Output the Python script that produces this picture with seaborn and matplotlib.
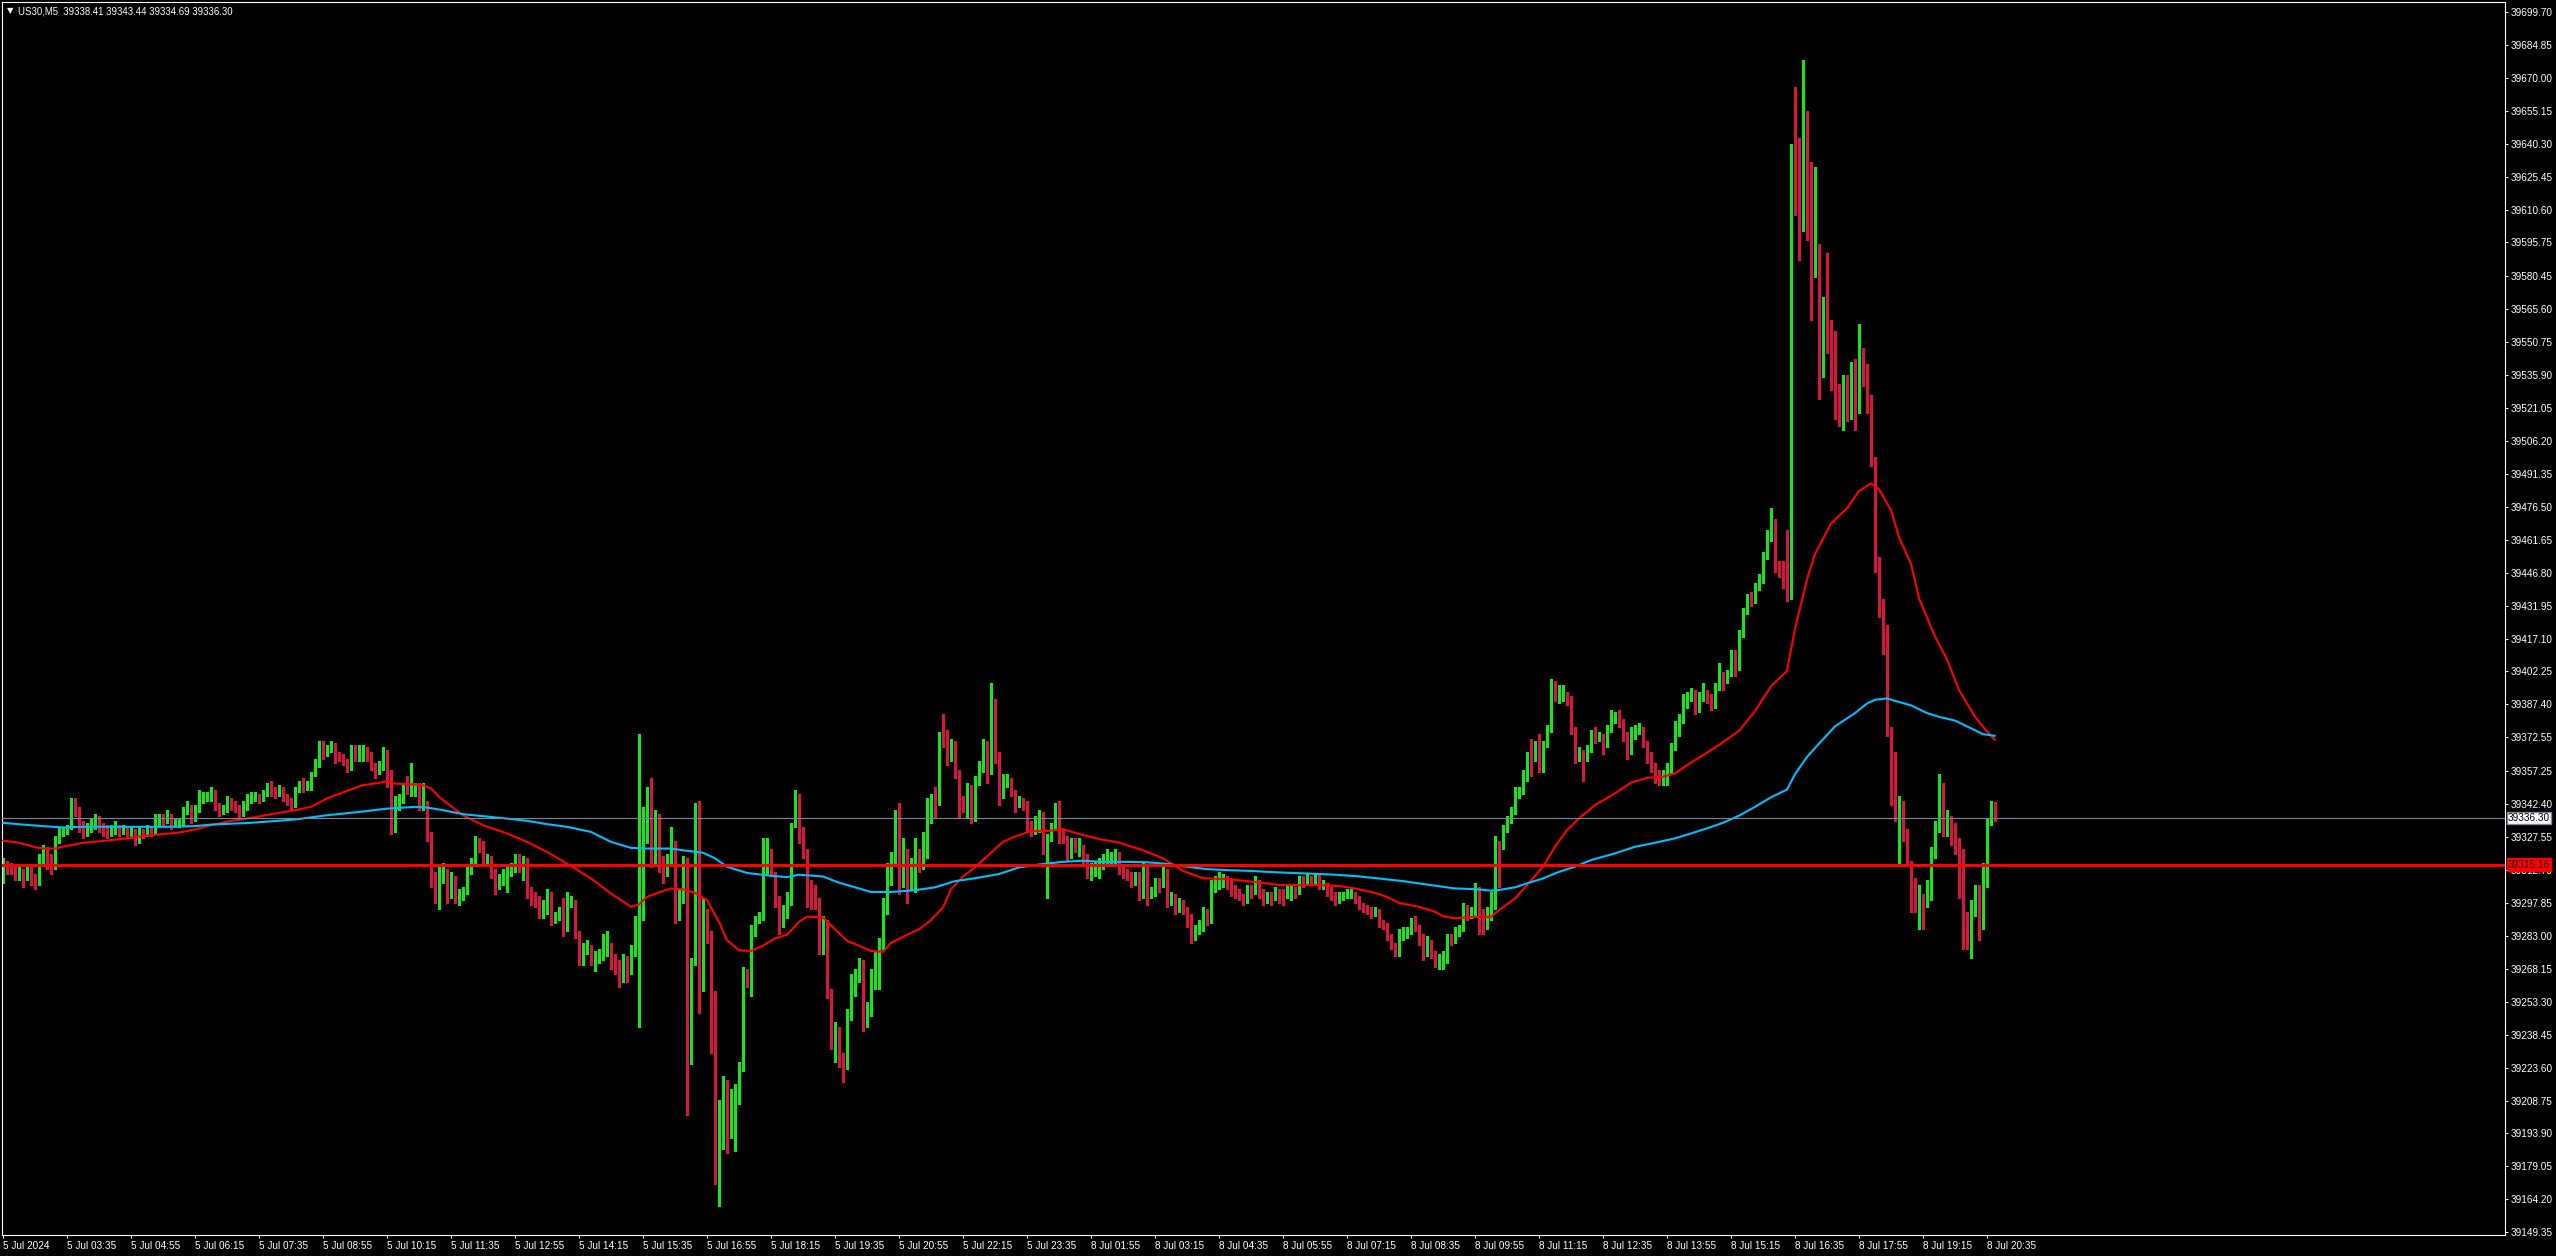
import numpy as np
import pandas as pd
import matplotlib
matplotlib.use("Agg")
import matplotlib.pyplot as plt
import matplotlib.transforms as mtransforms
import seaborn as sns

# ------------------------------
# US30 M5 candles, 5 Jul 2024 02:15 -> 8 Jul 2024 20:50 (499 bars)
# ------------------------------
first_open = 39310.0

closes = [
    39316, 39314, 39313, 39310, 39311, 39309, 39312, 39309, 39306, 39317,
    39321, 39318, 39314, 39326, 39330, 39330, 39331, 39341, 39340, 39333,
    39331, 39332, 39334, 39336, 39333, 39332, 39330, 39331, 39332, 39330,
    39331, 39329, 39330, 39326, 39330, 39329, 39331, 39330, 39335, 39336,
    39335, 39337, 39334, 39334, 39334, 39340, 39342, 39336, 39340, 39345,
    39345, 39346, 39347, 39342, 39340, 39340, 39344, 39342, 39341, 39338,
    39342, 39344, 39345, 39346, 39345, 39347, 39349, 39348, 39347, 39349,
    39346, 39344, 39342, 39349, 39351, 39350, 39351, 39356, 39360, 39367,
    39365, 39367, 39368, 39365, 39364, 39362, 39359, 39367, 39364, 39364,
    39367, 39366, 39360, 39358, 39360, 39365, 39357, 39332, 39344, 39344,
    39350, 39349, 39349, 39350, 39343, 39344, 39329, 39311, 39301, 39311,
    39312, 39302, 39309, 39301, 39301, 39304, 39313, 39317, 39325, 39322,
    39317, 39318, 39313, 39308, 39309, 39310, 39311, 39313, 39317, 39315,
    39316, 39304, 39302, 39300, 39294, 39296, 39300, 39291, 39292, 39294,
    39289, 39298, 39298, 39284, 39277, 39277, 39278, 39271, 39273, 39274,
    39276, 39278, 39273, 39269, 39265, 39272, 39268, 39276, 39288, 39321,
    39333, 39347, 39316, 39336, 39316, 39314, 39317, 39325, 39293, 39301,
    39318, 39271, 39271, 39335, 39260, 39293, 39285, 39257, 39198, 39206,
    39216, 39197, 39199, 39213, 39224, 39266, 39264, 39286, 39289, 39292,
    39312, 39317, 39312, 39301, 39289, 39294, 39299, 39333, 39345, 39329,
    39321, 39307, 39304, 39299, 39278, 39289, 39258, 39235, 39241, 39228,
    39225, 39248, 39258, 39264, 39270, 39243, 39249, 39262, 39270, 39279,
    39297, 39309, 39318, 39337, 39311, 39321, 39307, 39313, 39320, 39315,
    39321, 39337, 39344, 39343, 39374, 39373, 39365, 39370, 39357, 39345,
    39342, 39349, 39336, 39352, 39359, 39369, 39356, 39384, 39365, 39348,
    39352, 39353, 39348, 39343, 39344, 39343, 39334, 39331, 39334, 39337,
    39324, 39326, 39332, 39340, 39328, 39327, 39320, 39324, 39323, 39323,
    39320, 39312, 39314, 39314, 39315, 39316, 39318, 39318, 39319, 39314,
    39312, 39311, 39307, 39310, 39302, 39314, 39302, 39303, 39307, 39306,
    39311, 39299, 39301, 39296, 39297, 39296, 39290, 39283, 39286, 39287,
    39293, 39290, 39305, 39306, 39308, 39308, 39307, 39304, 39303, 39301,
    39300, 39303, 39302, 39307, 39303, 39300, 39301, 39300, 39303, 39302,
    39301, 39303, 39303, 39302, 39308, 39307, 39309, 39308, 39309, 39306,
    39306, 39303, 39302, 39299, 39301, 39301, 39302, 39302, 39300, 39297,
    39296, 39295, 39293, 39294, 39289, 39288, 39283, 39279, 39276, 39283,
    39283, 39285, 39289, 39287, 39283, 39275, 39280, 39275, 39272, 39272,
    39273, 39282, 39281, 39285, 39286, 39295, 39292, 39293, 39304, 39293,
    39287, 39292, 39296, 39325, 39323, 39331, 39335, 39339, 39347, 39348,
    39355, 39364, 39363, 39369, 39359, 39370, 39376, 39395, 39391, 39392,
    39392, 39389, 39377, 39363, 39366, 39364, 39367, 39374, 39373, 39373,
    39369, 39376, 39381, 39383, 39380, 39374, 39367, 39374, 39376, 39376,
    39370, 39365, 39360, 39356, 39354, 39355, 39359, 39368, 39376, 39380,
    39388, 39391, 39393, 39386, 39391, 39392, 39391, 39389, 39395, 39401,
    39397, 39401, 39410, 39404, 39419, 39429, 39436, 39434, 39440, 39443,
    39454, 39462, 39470, 39450, 39448, 39447, 39442, 39630, 39626, 39613,
    39638, 39630, 39586, 39587, 39539, 39568, 39548, 39545, 39527, 39517,
    39533, 39518, 39533, 39524, 39543, 39535, 39520, 39498, 39450, 39429,
    39418, 39374, 39358, 39338, 39343, 39329, 39316, 39299, 39296, 39302,
    39298, 39303, 39322, 39333, 39352, 39329, 39335, 39334, 39325, 39302,
    39287, 39284, 39298, 39300, 39290, 39306, 39336, 39338.41, 39336.30,
]

highs = [
    39318, 39317, 39316, 39315, 39314, 39313, 39315, 39314, 39311, 39320,
    39324, 39323, 39320, 39328, 39332, 39332, 39333, 39345, 39345, 39341,
    39335, 39334, 39336, 39338, 39337, 39334, 39333, 39333, 39335, 39333,
    39333, 39332, 39332, 39331, 39332, 39331, 39333, 39332, 39338, 39338,
    39338, 39340, 39338, 39336, 39336, 39341, 39344, 39342, 39342, 39349,
    39348, 39348, 39350, 39349, 39343, 39342, 39346, 39345, 39344, 39342,
    39344, 39347, 39348, 39348, 39347, 39349, 39352, 39353, 39350, 39351,
    39350, 39347, 39345, 39350, 39353, 39354, 39353, 39357, 39363, 39371,
    39371, 39369, 39371, 39370, 39366, 39365, 39363, 39369, 39369, 39369,
    39369, 39368, 39366, 39361, 39362, 39368, 39367, 39358, 39346, 39347,
    39352, 39355, 39361, 39352, 39352, 39352, 39344, 39330, 39312, 39314,
    39316, 39313, 39312, 39310, 39304, 39305, 39315, 39318, 39328, 39327,
    39326, 39320, 39319, 39313, 39311, 39313, 39314, 39316, 39320, 39320,
    39319, 39318, 39305, 39303, 39301, 39299, 39304, 39303, 39294, 39296,
    39300, 39303, 39301, 39299, 39285, 39280, 39281, 39279, 39276, 39277,
    39284, 39285, 39280, 39275, 39272, 39275, 39274, 39279, 39292, 39374,
    39341, 39350, 39354, 39340, 39338, 39319, 39320, 39332, 39326, 39304,
    39319, 39318, 39273, 39343, 39344, 39300, 39295, 39281, 39258, 39209,
    39220, 39218, 39214, 39216, 39226, 39269, 39268, 39288, 39292, 39294,
    39327, 39327, 39322, 39312, 39301, 39297, 39303, 39334, 39349, 39347,
    39332, 39322, 39308, 39306, 39300, 39292, 39290, 39259, 39244, 39242,
    39230, 39250, 39266, 39268, 39273, 39272, 39253, 39268, 39276, 39282,
    39300, 39316, 39321, 39340, 39343, 39327, 39322, 39318, 39327, 39322,
    39330, 39345, 39347, 39350, 39375, 39383, 39376, 39372, 39371, 39358,
    39346, 39352, 39351, 39355, 39362, 39372, 39371, 39397, 39390, 39366,
    39356, 39356, 39354, 39349, 39346, 39345, 39344, 39335, 39337, 39340,
    39339, 39329, 39334, 39343, 39344, 39331, 39328, 39327, 39327, 39327,
    39324, 39318, 39316, 39317, 39318, 39320, 39322, 39321, 39322, 39321,
    39315, 39313, 39312, 39312, 39312, 39316, 39315, 39305, 39309, 39309,
    39314, 39313, 39303, 39302, 39300, 39299, 39296, 39293, 39288, 39290,
    39296, 39295, 39308, 39310, 39312, 39311, 39310, 39309, 39306, 39304,
    39302, 39306, 39306, 39310, 39308, 39304, 39303, 39303, 39305, 39304,
    39304, 39306, 39306, 39305, 39310, 39310, 39311, 39310, 39311, 39311,
    39308, 39307, 39305, 39303, 39303, 39303, 39304, 39304, 39303, 39301,
    39298, 39297, 39296, 39296, 39295, 39290, 39289, 39284, 39280, 39286,
    39287, 39287, 39291, 39292, 39288, 39284, 39283, 39281, 39276, 39275,
    39276, 39284, 39284, 39287, 39288, 39298, 39297, 39296, 39307, 39305,
    39295, 39296, 39303, 39328, 39326, 39333, 39337, 39341, 39350, 39350,
    39358, 39366, 39372, 39371, 39374, 39371, 39378, 39399, 39398, 39396,
    39396, 39393, 39391, 39377, 39368, 39367, 39369, 39376, 39377, 39375,
    39374, 39378, 39385, 39384, 39385, 39381, 39375, 39377, 39378, 39379,
    39377, 39371, 39366, 39361, 39358, 39358, 39361, 39370, 39380, 39383,
    39392, 39393, 39395, 39394, 39393, 39397, 39394, 39392, 39397, 39406,
    39402, 39403, 39412, 39412, 39421, 39431, 39437, 39438, 39442, 39446,
    39456, 39466, 39476, 39471, 39452, 39452, 39466, 39640, 39666, 39643,
    39678, 39655, 39632, 39630, 39595, 39571, 39591, 39561, 39556, 39532,
    39536, 39536, 39542, 39543, 39559, 39548, 39541, 39527, 39499, 39454,
    39435, 39423, 39377, 39366, 39346, 39344, 39331, 39317, 39309, 39306,
    39302, 39308, 39323, 39335, 39356, 39352, 39340, 39337, 39333, 39327,
    39322, 39294, 39299, 39306, 39306, 39316, 39336, 39344, 39343.44,
]

lows = [
    39307, 39311, 39311, 39308, 39308, 39305, 39308, 39306, 39304, 39306,
    39315, 39313, 39311, 39313, 39325, 39328, 39329, 39331, 39337, 39330,
    39327, 39328, 39330, 39331, 39330, 39328, 39327, 39328, 39329, 39328,
    39329, 39327, 39327, 39324, 39325, 39327, 39328, 39328, 39329, 39333,
    39333, 39334, 39331, 39332, 39332, 39333, 39338, 39334, 39335, 39339,
    39343, 39344, 39344, 39340, 39337, 39338, 39339, 39340, 39339, 39336,
    39337, 39340, 39343, 39344, 39343, 39344, 39346, 39346, 39345, 39346,
    39344, 39342, 39340, 39341, 39348, 39348, 39349, 39349, 39355, 39359,
    39363, 39364, 39366, 39361, 39362, 39360, 39357, 39358, 39362, 39362,
    39362, 39362, 39358, 39354, 39356, 39358, 39350, 39329, 39330, 39340,
    39343, 39347, 39346, 39346, 39340, 39340, 39326, 39305, 39298, 39295,
    39307, 39298, 39300, 39298, 39297, 39299, 39302, 39311, 39316, 39321,
    39315, 39315, 39309, 39302, 39304, 39306, 39303, 39310, 39312, 39312,
    39308, 39300, 39297, 39296, 39291, 39291, 39293, 39288, 39289, 39290,
    39283, 39285, 39296, 39282, 39270, 39270, 39275, 39270, 39267, 39271,
    39272, 39274, 39268, 39266, 39260, 39262, 39262, 39266, 39274, 39242,
    39290, 39325, 39314, 39315, 39312, 39307, 39310, 39315, 39289, 39290,
    39298, 39202, 39225, 39270, 39248, 39258, 39280, 39230, 39171, 39161,
    39187, 39185, 39192, 39186, 39207, 39222, 39260, 39256, 39283, 39289,
    39290, 39311, 39310, 39296, 39284, 39287, 39291, 39297, 39332, 39325,
    39318, 39296, 39295, 39295, 39275, 39275, 39255, 39232, 39226, 39224,
    39217, 39223, 39245, 39256, 39262, 39240, 39242, 39247, 39259, 39259,
    39277, 39293, 39306, 39316, 39302, 39305, 39298, 39304, 39303, 39312,
    39313, 39318, 39334, 39336, 39342, 39368, 39360, 39362, 39354, 39336,
    39339, 39336, 39334, 39335, 39351, 39357, 39352, 39356, 39361, 39342,
    39345, 39350, 39346, 39339, 39341, 39340, 39330, 39328, 39329, 39330,
    39320, 39300, 39326, 39331, 39325, 39325, 39317, 39318, 39321, 39319,
    39316, 39309, 39308, 39310, 39309, 39313, 39315, 39315, 39316, 39311,
    39309, 39308, 39305, 39306, 39299, 39300, 39297, 39300, 39301, 39303,
    39305, 39296, 39297, 39293, 39294, 39293, 39287, 39280, 39281, 39284,
    39285, 39288, 39289, 39303, 39304, 39305, 39304, 39301, 39300, 39299,
    39297, 39298, 39300, 39302, 39300, 39297, 39298, 39297, 39299, 39298,
    39297, 39300, 39299, 39300, 39302, 39305, 39306, 39306, 39306, 39304,
    39304, 39301, 39299, 39297, 39298, 39299, 39300, 39300, 39298, 39295,
    39294, 39293, 39291, 39292, 39287, 39286, 39281, 39277, 39274, 39274,
    39281, 39282, 39284, 39285, 39279, 39272, 39274, 39273, 39269, 39268,
    39268, 39271, 39279, 39280, 39283, 39285, 39290, 39291, 39292, 39284,
    39284, 39286, 39290, 39295, 39305, 39322, 39330, 39334, 39338, 39345,
    39347, 39353, 39355, 39362, 39357, 39357, 39368, 39375, 39389, 39388,
    39389, 39387, 39374, 39361, 39362, 39353, 39362, 39366, 39370, 39371,
    39365, 39368, 39375, 39379, 39377, 39371, 39363, 39365, 39372, 39374,
    39368, 39361, 39357, 39352, 39351, 39351, 39351, 39356, 39367, 39373,
    39379, 39386, 39389, 39383, 39384, 39389, 39388, 39385, 39386, 39394,
    39394, 39397, 39400, 39400, 39403, 39418, 39428, 39432, 39433, 39439,
    39442, 39453, 39461, 39447, 39445, 39440, 39434, 39435, 39608, 39588,
    39601, 39597, 39561, 39580, 39525, 39535, 39546, 39529, 39516, 39513,
    39511, 39515, 39516, 39511, 39519, 39531, 39519, 39495, 39447, 39427,
    39410, 39373, 39342, 39335, 39316, 39326, 39315, 39294, 39294, 39286,
    39286, 39296, 39299, 39318, 39330, 39328, 39328, 39324, 39320, 39300,
    39277, 39277, 39273, 39292, 39281, 39286, 39305, 39333, 39334.69,
]

# moving averages (bar index, price)
red_ma_idx = [
    0, 4, 8, 10, 13, 16, 20, 26, 31, 35, 39, 44, 48, 52, 57, 62, 68, 73, 77, 81,
    86, 90, 94, 96, 98, 102, 105, 107, 109, 112, 115, 120, 126, 131, 136, 141, 147, 152, 157, 159,
    161, 164, 167, 170, 173, 176, 179, 181, 184, 187, 190, 193, 196, 199, 201, 205, 208, 211, 214, 217,
    220, 222, 226, 229, 232, 235, 237, 240, 243, 247, 250, 253, 257, 261, 265, 269, 274, 279, 285, 290,
    295, 300, 307, 313, 319, 324, 329, 334, 338, 343, 346, 349, 354, 358, 360, 363, 368, 372, 374, 378,
    381, 385, 388, 391, 394, 398, 403, 407, 411, 415, 418, 421, 425, 429, 434, 438, 442, 446, 448, 451,
    453, 457, 461, 464, 467, 469, 472, 474, 477, 479, 483, 486, 489, 493, 496, 498,
]
red_ma_val = [
    39326, 39325, 39323, 39322.4, 39322.4, 39323.6, 39325, 39326, 39327, 39328,
    39328.8, 39329.6, 39331, 39332.9, 39334.9, 39336.2, 39338.2, 39339.7, 39341.2, 39345,
    39348.4, 39351, 39352, 39352.8, 39351.7, 39351.4, 39351, 39349.5, 39345.7, 39341.5,
    39337.4, 39332.9, 39329.2, 39325.4, 39320.9, 39315.6, 39308.9, 39302.1, 39296.1, 39297.2,
    39300.6, 39302.6, 39304.4, 39304, 39302.4, 39299.1, 39289.3, 39281.1, 39276.5, 39276.2,
    39278.6, 39281.9, 39283.5, 39289.3, 39291.7, 39291.3, 39286, 39280.8, 39278.6, 39276.2,
    39275.8, 39279.8, 39283.5, 39286, 39290.1, 39295.9, 39304, 39309.8, 39313.9, 39320.5,
    39325.4, 39327.8, 39330.3, 39330.3, 39331.1, 39329, 39326.7, 39325.1, 39321.6, 39318,
    39312.3, 39309, 39308.5, 39307.3, 39306, 39305.9, 39305.9, 39305.5, 39304.4, 39302.4,
    39300.6, 39297.9, 39296.1, 39293.9, 39291.9, 39290.9, 39291.6, 39291.6, 39294.6, 39299.9,
    39305.9, 39314.2, 39323.2, 39330.7, 39336, 39342, 39347.3, 39352.1, 39354.3, 39354.8,
    39356.3, 39360, 39364.5, 39369.1, 39375.5, 39384.4, 39395.6, 39402.5, 39421.5, 39443.9,
    39455.2, 39469, 39475.9, 39483.6, 39487.1, 39484.5, 39475, 39462.9, 39450.8, 39435.3,
    39418, 39407.7, 39393.9, 39381.8, 39375.2, 39371.4,
]

blue_ma_idx = [
    0, 5, 10, 15, 20, 31, 41, 48, 52, 62, 73, 81, 89, 96, 103, 106, 110, 115, 120, 126,
    131, 136, 141, 147, 152, 157, 161, 167, 170, 175, 178, 181, 186, 191, 196, 199, 205, 209, 214, 217,
    222, 228, 233, 238, 243, 249, 254, 259, 265, 270, 275, 280, 286, 291, 296, 301, 307, 312, 317, 322,
    325, 332, 338, 344, 350, 357, 363, 368, 372, 374, 378, 381, 385, 389, 393, 397, 403, 408, 413, 418,
    422, 426, 430, 434, 438, 442, 446, 448, 451, 454, 458, 463, 466, 468, 471, 473, 477, 481, 484, 488,
    491, 495, 498,
]
blue_ma_val = [
    39334, 39333.2, 39332.5, 39331.9, 39332.2, 39332.2, 39332.2, 39332.5, 39333.2, 39334,
    39335.5, 39337.4, 39338.9, 39340.4, 39341.2, 39340.9, 39339.7, 39337.9, 39337, 39335.9,
    39334.9, 39333.4, 39332.2, 39329.9, 39325.4, 39322.7, 39322.4, 39322.4, 39321.6, 39320.5,
    39318, 39314.2, 39311.4, 39310.3, 39309.5, 39310.6, 39309.8, 39307, 39304.4, 39302.8,
    39302.8, 39303.6, 39304.9, 39307.7, 39309, 39310.9, 39313.9, 39315.2, 39316.4, 39316.9,
    39316.4, 39316.4, 39316.2, 39315.5, 39314.2, 39313.1, 39312.6, 39312.3, 39311.8, 39311.4,
    39311.2, 39310.7, 39310, 39308.9, 39307.7, 39305.9, 39304.4, 39304.1, 39303.4, 39303.7,
    39304.9, 39306.7, 39308.9, 39311.9, 39314.2, 39317.2, 39320.2, 39323.2, 39325, 39327,
    39329.2, 39331.5, 39334, 39337.2, 39341.2, 39345.5, 39349, 39355.9, 39363.7, 39369.7,
    39377.5, 39383.5, 39387.8, 39389.5, 39390.1, 39389, 39387, 39383.5, 39381.8, 39380.1,
    39377.5, 39374, 39373.2,
]

time_labels = [
    "5 Jul 2024", "5 Jul 03:35", "5 Jul 04:55", "5 Jul 06:15", "5 Jul 07:35",
    "5 Jul 08:55", "5 Jul 10:15", "5 Jul 11:35", "5 Jul 12:55", "5 Jul 14:15",
    "5 Jul 15:35", "5 Jul 16:55", "5 Jul 18:15", "5 Jul 19:35", "5 Jul 20:55",
    "5 Jul 22:15", "5 Jul 23:35", "8 Jul 01:55", "8 Jul 03:15", "8 Jul 04:35",
    "8 Jul 05:55", "8 Jul 07:15", "8 Jul 08:35", "8 Jul 09:55", "8 Jul 11:15",
    "8 Jul 12:35", "8 Jul 13:55", "8 Jul 15:15", "8 Jul 16:35", "8 Jul 17:55",
    "8 Jul 19:15", "8 Jul 20:35",
]

price_ticks = [
    39699.70, 39684.85, 39670.00, 39655.15, 39640.30, 39625.45, 39610.60, 39595.75,
    39580.45, 39565.60, 39550.75, 39535.90, 39521.05, 39506.20, 39491.35, 39476.50,
    39461.65, 39446.80, 39431.95, 39417.10, 39402.25, 39387.40, 39372.55, 39357.25,
    39342.40, 39327.55, 39312.70, 39297.85, 39283.00, 39268.15, 39253.30, 39238.45,
    39223.60, 39208.75, 39193.90, 39179.05, 39164.20, 39149.35,
]

level_price = 39315.16
bid_price = 39336.30
header = "US30,M5  39338.41 39343.44 39334.69 39336.30"

assert len(closes) == len(highs) == len(lows)
assert len(red_ma_idx) == len(red_ma_val)
assert len(blue_ma_idx) == len(blue_ma_val)

# ------------------------------
# Build candle table
# ------------------------------
df = pd.DataFrame({"close": closes, "high": highs, "low": lows})
df["open"] = [first_open] + closes[:-1]
df["i"] = np.arange(len(df))
df["high"] = np.maximum(df["high"], df[["open", "close"]].max(axis=1))
df["low"] = np.minimum(df["low"], df[["open", "close"]].min(axis=1))
up = df["close"] >= df["open"]

BULL = "#14E814"
BEAR = "#DC143C"
colors = np.where(up, BULL, BEAR)

# ------------------------------
# Style
# ------------------------------
sns.set_theme(style="dark", rc={
    "axes.facecolor": "black",
    "figure.facecolor": "black",
    "axes.edgecolor": "white",
    "text.color": "white",
    "xtick.color": "white",
    "ytick.color": "white",
    "axes.grid": False,
})
plt.rcParams["font.family"] = ["Liberation Sans", "DejaVu Sans"]

W, H = 2556, 1256
fig = plt.figure(figsize=(W / 100, H / 100), dpi=100)
ax = fig.add_axes([2 / W, 1 - 1235 / H, 2503 / W, 1233 / H])
ax.set_facecolor("black")

# wicks and bodies
ax.vlines(df["i"], df["low"], df["high"], colors=colors, linewidth=0.8,
          antialiased=False, zorder=2)
body_bottom = df[["open", "close"]].min(axis=1)
body_height = np.maximum((df["close"] - df["open"]).abs(), 0.45)
ax.bar(df["i"], body_height, bottom=body_bottom, width=0.75, color=colors,
       linewidth=0, antialiased=False, zorder=2)

# moving averages
sns.lineplot(x=red_ma_idx, y=red_ma_val, ax=ax, color="#FF0000", linewidth=1.5,
             zorder=3, legend=False)
sns.lineplot(x=blue_ma_idx, y=blue_ma_val, ax=ax, color="#00BFFF", linewidth=1.5,
             zorder=3, legend=False)

# bid line and horizontal level
ax.axhline(bid_price, color="#778899", linewidth=0.8, zorder=4)
ax.axhline(level_price, color="#FF0000", linewidth=2.2, zorder=5)

# ------------------------------
# Axes
# ------------------------------
ax.set_xlim(-0.25, 625.5)
ax.set_ylim(39148.1, 39704.2)

ax.yaxis.tick_right()
ax.set_yticks(price_ticks)
ax.set_yticklabels([f"{v:.2f}" for v in price_ticks])
ax.set_xticks(np.arange(len(time_labels)) * 16)
ax.set_xticklabels(time_labels)
for lab in ax.get_xticklabels():
    lab.set_ha("left")

ax.tick_params(axis="y", which="both", right=True, left=False, length=2.2,
               width=0.7, pad=2, labelsize=7.2, colors="white")
ax.tick_params(axis="x", which="both", bottom=True, length=2.2, width=0.7,
               pad=2, labelsize=7.2, colors="white")
for side in ["left", "right", "top", "bottom"]:
    ax.spines[side].set_color("white")
    ax.spines[side].set_linewidth(0.8)
ax.set_xlabel("")
ax.set_ylabel("")

# price labels on the right scale
trans = mtransforms.blended_transform_factory(ax.transAxes, ax.transData)
ax.text(1.0012, level_price, f"{level_price:.2f}", transform=trans, ha="left",
        va="center", fontsize=7.2, color="#200000", zorder=10, clip_on=False,
        bbox=dict(boxstyle="square,pad=0.12", facecolor="#FF0000", edgecolor="#FF0000"))
ax.text(1.0012, bid_price, f"{bid_price:.2f}", transform=trans, ha="left",
        va="center", fontsize=7.2, color="black", zorder=10, clip_on=False,
        bbox=dict(boxstyle="square,pad=0.12", facecolor="white", edgecolor="#778899"))

# header
fig.text(7 / W, 1 - 11 / H, "\u25BC", fontsize=6, color="white", ha="left", va="center",
         family=["DejaVu Sans"])
fig.text(18 / W, 1 - 11 / H, header, fontsize=6.9, color="white", ha="left", va="center")

fig.savefig("out.png", dpi=100, facecolor="black")
